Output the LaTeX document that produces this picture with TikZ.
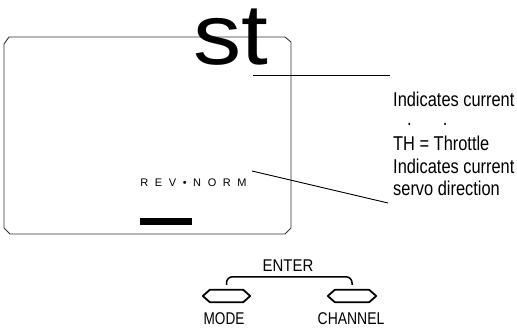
\documentclass[tikz,border=0pt]{standalone}
\usepackage{fontspec}
\setmainfont{Liberation Sans}
\newcommand{\narrow}[2][0.82]{\scalebox{#1}[1]{#2}}

\begin{document}
\begin{tikzpicture}[x=1pt,y=-1pt,
  lbl/.style={inner sep=0pt, font=\fontsize{20}{24}\selectfont},
  keylbl/.style={inner sep=0pt, font=\fontsize{17}{20}\selectfont},
  key/.style={line width=1.8pt, line join=round}]
\useasboundingbox (0,0) rectangle (517,328);

% the display window
\draw[black!80, line width=0.9pt] (4,44) -- (9,37) -- (285,37) -- (291,42) -- (291,228)
  -- (285,234) -- (10,234) -- (4,228) -- cycle;
\node[anchor=base, inner sep=0pt, text height=58pt, text depth=0pt] (chan) at (231,65)
  {\scalebox{1.12}[1]{\fontsize{86}{86}\selectfont st}};
\node[anchor=base, inner sep=0pt, font=\fontsize{11}{12}\selectfont] (rev) at (193.5,187)
  {\addfontfeature{LetterSpace=60}REV•NORM};
\fill (140,218) rectangle (192,225);

% leader lines
\coordinate (chan tip) at (253,75);
\coordinate (chan end) at (390,75);
\coordinate (rev tip) at (252,171);
\coordinate (rev end) at (388,203);
\draw[line width=0.9pt] (chan tip) -- (chan end);
\draw[line width=0.9pt] (rev tip) -- (rev end);

\node[lbl, anchor=base west] (ind1) at (393,107) {\narrow{Indicates current}};
\node[lbl, anchor=base west] (dots) at (407,126) {\narrow{.\hspace{38pt}.}};
\node[lbl, anchor=base west] (th) at (393,151) {\narrow{TH = Throttle}};
\node[lbl, anchor=base west] (ind2) at (393,174) {\narrow{Indicates current}};
\node[lbl, anchor=base west] (servo) at (393,196) {\narrow{servo direction}};

% keys
\node[minimum width=47pt, minimum height=12pt, inner sep=0pt] (modekey) at (226.5,296) {};
\node[minimum width=48pt, minimum height=12pt, inner sep=0pt] (chankey) at (352,296) {};
\foreach \k in {modekey,chankey}
  \draw[key] (\k.west) -- ([xshift=7pt]\k.north west) -- ([xshift=-7pt]\k.north east)
    -- (\k.east) -- ([xshift=-7pt]\k.south east) -- ([xshift=7pt]\k.south west) -- cycle;
\draw[line width=1.5pt, rounded corners=6pt] ([yshift=5pt]modekey.north) -- ++(0,-8)
  -| ([yshift=5pt]chankey.north);
\node[keylbl, anchor=base] (enter) at (288,272) {\narrow[0.88]{ENTER}};
\node[keylbl, anchor=base] (mode) at (224,325) {\narrow[0.8]{MODE}};
\node[keylbl, anchor=base] (channel) at (351,325) {\narrow[0.82]{CHANNEL}};
\end{tikzpicture}
\end{document}
